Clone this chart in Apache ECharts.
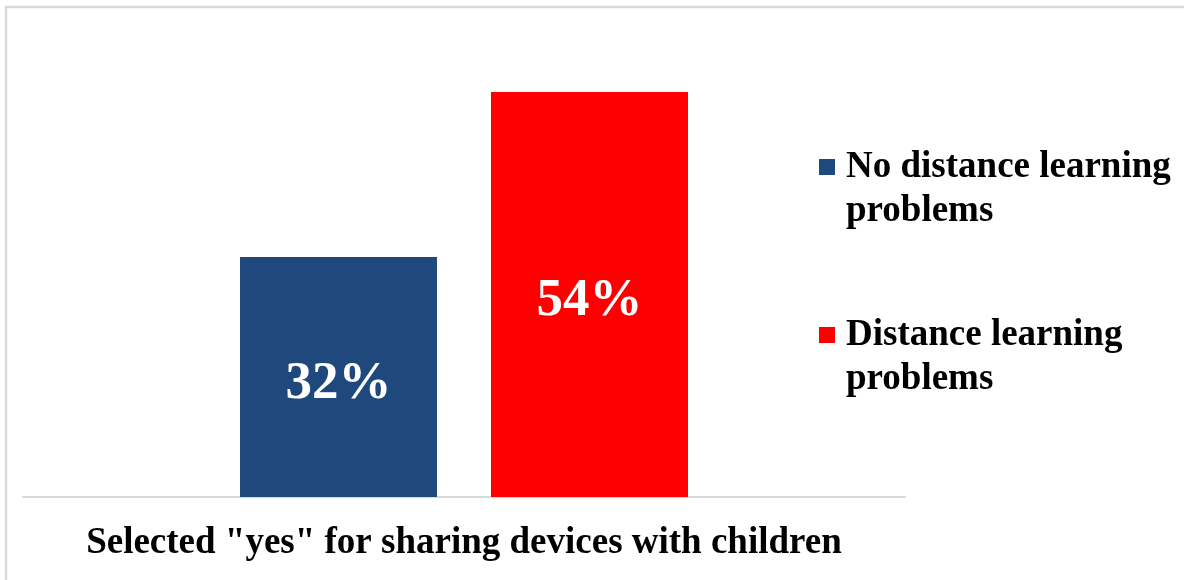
<!DOCTYPE html>
<html>
<head>
<meta charset="utf-8">
<title>Sharing devices with children</title>
<script src="https://cdn.jsdelivr.net/npm/echarts@6/dist/echarts.min.js"></script>
<style>
  html, body { margin: 0; padding: 0; background: #ffffff; }
  #chart { width: 1184px; height: 580px; }
</style>
</head>
<body>
<div id="chart"></div>
<script>
// Survey result: share of respondents who share devices with children
const categories = ['Selected "yes" for sharing devices with children'];
const seriesNames = ['No distance learning\nproblems', 'Distance learning\nproblems'];
const noProblemsValues = [32];
const problemsValues = [54];

const SERIF = '"Liberation Serif", "Times New Roman", serif';
const LEGEND_LINE = 44;

const chart = echarts.init(document.getElementById('chart'), null, { renderer: 'canvas' });

const barLabel = {
  show: true,
  position: 'inside',
  offset: [0, 7],
  formatter: '{c}%',
  color: '#ffffff',
  fontFamily: SERIF,
  fontWeight: 'bold',
  fontSize: 53
};

// Legend text: a blank leading line keeps the swatch level with the first line of the name
function legendFormatter(name) {
  const lines = name.split('\n').map(function (l) { return '{g|}{t|' + l + '}'; });
  return '{t| }\n' + lines.join('\n');
}

chart.setOption({
  animation: false,
  backgroundColor: '#ffffff',
  graphic: [{
    type: 'rect',
    shape: { x: 6, y: 7, width: 1400, height: 800 },
    style: { fill: 'none', stroke: '#d9d9d9', lineWidth: 2.5 },
    silent: true,
    z: 100
  }],
  grid: { left: 23, right: 279, top: 47, bottom: 83 },
  legend: {
    orient: 'vertical',
    left: 819,
    top: 101,
    padding: 0,
    itemGap: 36,
    itemWidth: 16,
    itemHeight: 16,
    icon: 'rect',
    selectedMode: false,
    formatter: legendFormatter,
    textStyle: {
      fontFamily: SERIF,
      fontWeight: 'bold',
      fontSize: 37,
      lineHeight: LEGEND_LINE,
      color: '#000000',
      rich: {
        g: { width: 6, lineHeight: LEGEND_LINE },
        t: {
          fontFamily: SERIF,
          fontWeight: 'bold',
          fontSize: 37,
          lineHeight: LEGEND_LINE,
          color: '#000000'
        }
      }
    }
  },
  xAxis: {
    type: 'category',
    data: categories,
    axisLine: { show: true, lineStyle: { color: '#d9d9d9', width: 2 } },
    axisTick: { show: false },
    axisLabel: {
      color: '#000000',
      fontFamily: SERIF,
      fontWeight: 'bold',
      fontSize: 37,
      margin: 28
    }
  },
  yAxis: {
    type: 'value',
    min: 0,
    max: 60,
    show: false,
    splitLine: { show: false }
  },
  series: [
    {
      name: seriesNames[0],
      type: 'bar',
      data: noProblemsValues,
      barWidth: 197,
      barGap: '27.4%',
      itemStyle: { color: '#1f497d' },
      label: barLabel
    },
    {
      name: seriesNames[1],
      type: 'bar',
      data: problemsValues,
      barWidth: 197,
      barGap: '27.4%',
      itemStyle: { color: '#ff0000' },
      label: barLabel
    }
  ]
});
</script>
</body>
</html>
